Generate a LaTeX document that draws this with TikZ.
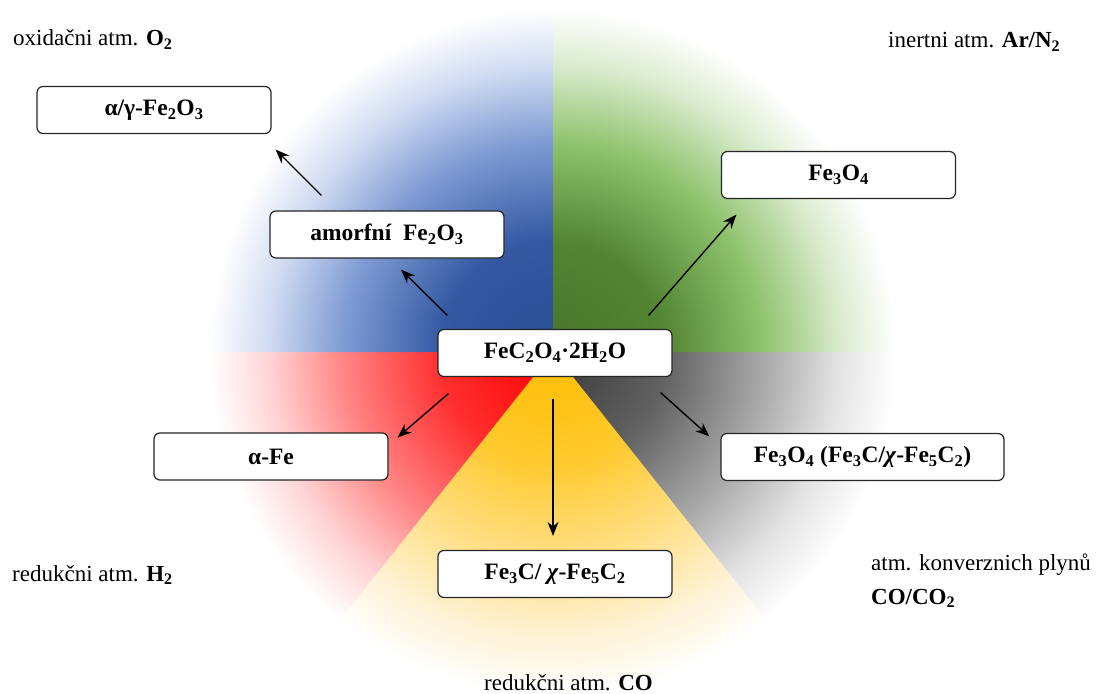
\documentclass[tikz,border=0pt]{standalone}
\usepackage{fontspec}
\setmainfont{Liberation Serif}
\usetikzlibrary{arrows.meta,calc}

% colour stops of the five atmosphere sectors
\definecolor{bluA}{HTML}{2A4E93}
\definecolor{bluB}{HTML}{3459A2}
\definecolor{bluC}{HTML}{7F9BD3}
\definecolor{bluD}{HTML}{D2DDF2}
\definecolor{grnA}{HTML}{487429}
\definecolor{grnB}{HTML}{538533}
\definecolor{grnC}{HTML}{90C36E}
\definecolor{grnD}{HTML}{DAEBCE}
\definecolor{redA}{HTML}{FF0000}
\definecolor{redB}{HTML}{FF2E2E}
\definecolor{redC}{HTML}{FF8585}
\definecolor{redD}{HTML}{FFD6D6}
\definecolor{yelA}{HTML}{FFBC00}
\definecolor{yelB}{HTML}{FFCA2E}
\definecolor{yelC}{HTML}{FFE08A}
\definecolor{yelD}{HTML}{FFF3D8}
\definecolor{gryA}{HTML}{383838}
\definecolor{gryB}{HTML}{616161}
\definecolor{gryC}{HTML}{A8A8A8}
\definecolor{gryD}{HTML}{E4E4E4}

\newcommand{\fanshade}[2]{%
  \pgfdeclareradialshading{#1}{\pgfpoint{0bp}{0bp}}{%
    color(0bp)=(#2A); color(8bp)=(#2B); color(15bp)=(#2C);
    color(20.5bp)=(#2D); color(24.5bp)=(white); color(50bp)=(white)}}
\fanshade{fanblue}{blu}
\fanshade{fangreen}{grn}
\fanshade{fanred}{red}
\fanshade{fanyellow}{yel}
\fanshade{fangray}{gry}

\newcommand{\boxfont}{\fontsize{23.5}{27}\selectfont\bfseries}
\newcommand{\lblfont}{\fontsize{23}{27}\selectfont}
\def\fanR{350}

% one sector of the fan: start angle, end angle, shading
\newcommand{\fansector}[3]{%
  \begin{scope}
    \clip (C) -- ++(#1:\fanR) arc[start angle=#1, end angle=#2, radius=\fanR] -- cycle;
    \shade[shading=#3] (C) circle[radius=\fanR];
  \end{scope}}

\tikzset{
  box/.style={draw=black!85, line width=1.2pt, rounded corners=6pt, fill=white,
    minimum width=234pt, minimum height=47pt, inner sep=0pt, font=\boxfont},
  link/.style={line width=1.4pt, -{Stealth[length=14pt,width=11pt]}},
  lbl/.style={font=\lblfont, inner sep=0pt, anchor=base west}
}

\begin{document}
\begin{tikzpicture}[x=1pt, y=-1pt]
\useasboundingbox (0,0) rectangle (1113,693);
\fill[white] (0,0) rectangle (1113,693);

% coloured fan behind the scheme
\coordinate (C) at (553,352);
\fansector{-0.3}{51.8}{fangray}
\fansector{51.5}{128.8}{fanyellow}
\fansector{128.5}{180.3}{fanred}
\fansector{180}{270.3}{fanblue}
\fansector{270}{360}{fangreen}

% compounds
\node[box] (cen)   at (555,353)   {FeC\textsubscript{2}O\textsubscript{4}·2H\textsubscript{2}O};
\node[box] (amorf) at (387,234.5) {amorfní\enspace Fe\textsubscript{2}O\textsubscript{3}};
\node[box] (ag)    at (154,110)   {α/γ-Fe\textsubscript{2}O\textsubscript{3}};
\node[box] (mag)   at (838.5,175) {Fe\textsubscript{3}O\textsubscript{4}};
\node[box] (afe)   at (271,456.5) {α-Fe};
\node[box] (carb)  at (555,574)   {Fe\textsubscript{3}C/ \textit{χ}-Fe\textsubscript{5}C\textsubscript{2}};
\node[box, minimum width=283pt] (mix) at (862.5,457)
  {Fe\textsubscript{3}O\textsubscript{4} (Fe\textsubscript{3}C/\textit{χ}-Fe\textsubscript{5}C\textsubscript{2})};

% reaction paths
\draw[link] ($(cen.north west)+(10,-13.5)$) -- ($(amorf.south)+(14,11)$);
\draw[link] ($(amorf.north west)+(52,-15)$) -- ($(ag.south east)+(4,15.5)$);
\draw[link] ($(cen.north east)+(-24,-13.5)$) -- ($(mag.south west)+(15.5,15.5)$);
\draw[link] ($(cen.south west)+(11,16.5)$) -- ($(afe.north east)+(9,5)$);
\draw[link] ($(cen.south)+(-2,21.5)$) -- ($(carb.north)+(-2,-14)$);
\draw[link] ($(cen.south east)+(-12,15.5)$) -- ($(mix.north west)+(-11,3.5)$);

% atmospheres
\node[lbl] (tox) at (13,46)   {oxidačni atm. \textbf{O\textsubscript{2}}};
\node[lbl] (tin) at (888,48)  {inertni atm. \textbf{Ar/N\textsubscript{2}}};
\node[lbl] (th2) at (12,581)  {redukčni atm. \textbf{H\textsubscript{2}}};
\node[lbl] (tco) at (484,690) {redukčni atm. \textbf{CO}};
\node[lbl] (tcv) at (871,570) {atm. konverznich plynů};
\node[lbl] (tcv2) at (871,604) {\textbf{CO/CO\textsubscript{2}}};
\end{tikzpicture}
\end{document}
